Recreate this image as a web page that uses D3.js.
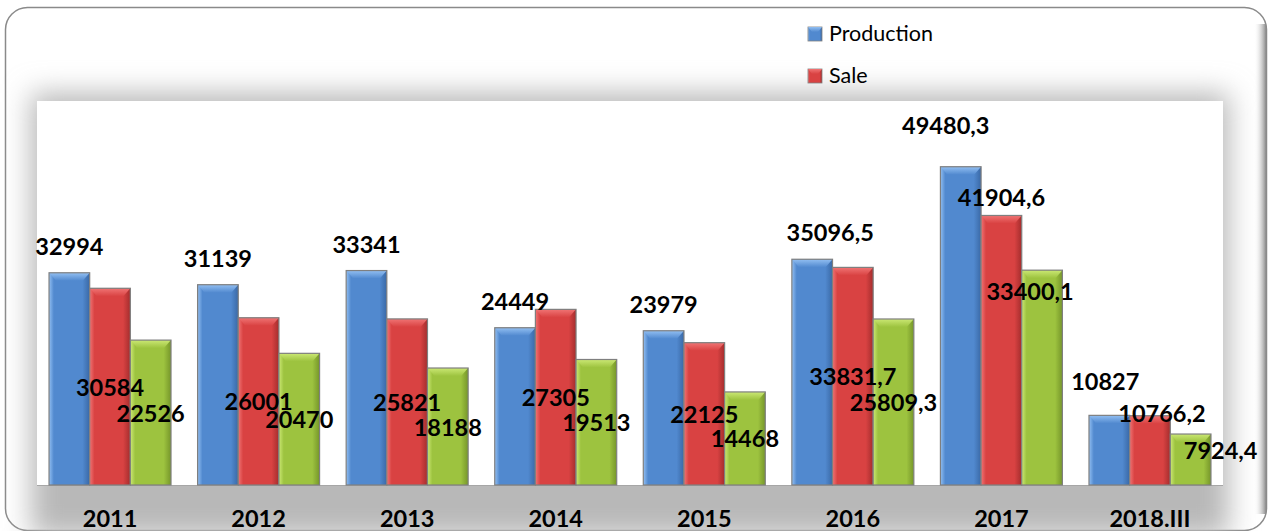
<!DOCTYPE html>
<html>
<head>
<meta charset="utf-8">
<script src="https://cdn.jsdelivr.net/npm/d3@7/dist/d3.min.js"></script>
<style>
  html, body { margin: 0; padding: 0; background: #ffffff; }
  svg { display: block; font-family: Lato, "Open Sans", sans-serif; }
</style>
</head>
<body>
<div id="chart"></div>
<script>
// chart data
const categories = ["2011", "2012", "2013", "2014", "2015", "2016", "2017", "2018.III"];
const production = [32994, 31139, 33341, 24449, 23979, 35096.5, 49480.3, 10827];
const sale = [30584, 26001, 25821, 27305, 22125, 33831.7, 41904.6, 10766.2];
const third = [22526, 20470, 18188, 19513, 14468, 25809.3, 33400.1, 7924.4];
const seriesNames = ["Production", "Sale", "Series3"];
const legendNames = ["Production", "Sale"];

// hand moved data labels in the original (pixel nudges)
const labelNudge = {
  "Production|2016": [18, 0],
  "Production|2017": [-15, -15],
  "Production|2018.III": [-4, -7],
  "Sale|2017": [0, -153],
  "Sale|2018.III": [12, -37],
  "Series3|2017": [-12, -87],
  "Series3|2018.III": [30, -10]
};

let w = 1268, h = 531;
let plot = {left: 37, right: 1223, top: 101, bottom: 485};

let colors = [
  {base: "#5189cf", light: "#92bff2", dark: "#3a69a6"},
  {base: "#d94242", light: "#f07474", dark: "#a42d2d"},
  {base: "#9dc33f", light: "#cbe874", dark: "#76962a"}
];

let svg = d3.select("#chart").append("svg")
  .attr("width", w)
  .attr("height", h);

let defs = svg.append("defs");

let glow = defs.append("filter").attr("id", "glow")
  .attr("x", "-10%").attr("y", "-30%").attr("width", "120%").attr("height", "160%");
glow.append("feGaussianBlur").attr("stdDeviation", 14);

colors.forEach((c, i) => {
  let g = defs.append("linearGradient").attr("id", "body" + i)
    .attr("x1", "0").attr("x2", "1").attr("y1", "0").attr("y2", "0");
  g.append("stop").attr("offset", "0").attr("stop-color", c.light);
  g.append("stop").attr("offset", "0.12").attr("stop-color", c.base);
  g.append("stop").attr("offset", "0.82").attr("stop-color", c.base);
  g.append("stop").attr("offset", "1").attr("stop-color", c.dark);

  let t = defs.append("linearGradient").attr("id", "cap" + i)
    .attr("x1", "0").attr("x2", "0").attr("y1", "0").attr("y2", "1");
  t.append("stop").attr("offset", "0").attr("stop-color", c.light);
  t.append("stop").attr("offset", "1").attr("stop-color", c.base);
});

let edge = defs.append("linearGradient").attr("id", "rightEdge")
  .attr("x1", "0").attr("x2", "1").attr("y1", "0").attr("y2", "0");
edge.append("stop").attr("offset", "0").attr("stop-color", "#ffffff").attr("stop-opacity", 0);
edge.append("stop").attr("offset", "1").attr("stop-color", "#8a8a8a").attr("stop-opacity", 1);

// outer frame
svg.append("rect")
  .attr("x", 5.5).attr("y", 7.5)
  .attr("width", 1261).attr("height", 523)
  .attr("rx", 22).attr("ry", 22)
  .attr("fill", "#ffffff")
  .attr("stroke", "#8a8a8a")
  .attr("stroke-width", 1.5);

// soft grey shadow round the plot area
svg.append("rect")
  .attr("x", plot.left - 6).attr("y", plot.top - 8)
  .attr("width", plot.right - plot.left + 12)
  .attr("height", plot.bottom - plot.top + 60)
  .attr("fill", "#b8b8b8")
  .attr("filter", "url(#glow)");

svg.append("rect")
  .attr("x", 1254).attr("y", 24)
  .attr("width", 12).attr("height", 490)
  .attr("fill", "url(#rightEdge)");

svg.append("rect")
  .attr("x", plot.left).attr("y", plot.top)
  .attr("width", plot.right - plot.left)
  .attr("height", plot.bottom - plot.top)
  .attr("fill", "#ffffff");

// scales
let x0 = d3.scaleBand()
  .domain(categories)
  .range([plot.left, plot.right])
  .paddingInner(0.179)
  .paddingOuter(0.081);

let x1 = d3.scaleBand()
  .domain(seriesNames)
  .range([0, x0.bandwidth()]);

let y = d3.scaleLinear()
  .domain([0, 59700])
  .range([plot.bottom, plot.top]);

let seriesData = [production, sale, third];
let rows = [];
seriesData.forEach((vals, s) => {
  vals.forEach((v, i) => {
    rows.push({series: seriesNames[s], s: s, cat: categories[i], value: v});
  });
});

// baseline
svg.append("line")
  .attr("x1", plot.left).attr("x2", plot.right)
  .attr("y1", plot.bottom + 0.5).attr("y2", plot.bottom + 0.5)
  .attr("stroke", "#a6a6a6")
  .attr("stroke-width", 1);

let bars = svg.append("g").selectAll("g")
  .data(rows)
  .enter()
  .append("g");

bars.append("rect")
  .attr("x", d => x0(d.cat) + x1(d.series))
  .attr("y", d => y(d.value))
  .attr("width", x1.bandwidth())
  .attr("height", d => y(0) - y(d.value))
  .attr("fill", d => "url(#body" + d.s + ")");

// bevelled top
bars.append("path")
  .attr("d", d => {
    let bx = x0(d.cat) + x1(d.series), bw = x1.bandwidth(), by = y(d.value);
    return `M${bx},${by}L${bx + bw},${by}L${bx + bw - 7},${by + 8}L${bx + 7},${by + 8}Z`;
  })
  .attr("fill", d => "url(#cap" + d.s + ")");

bars.append("rect")
  .attr("x", d => x0(d.cat) + x1(d.series))
  .attr("y", d => y(d.value))
  .attr("width", x1.bandwidth())
  .attr("height", d => y(0) - y(d.value))
  .attr("fill", "none")
  .attr("stroke", "#7f7f7f")
  .attr("stroke-width", 1.2);

// data labels
let fmt = v => String(v).replace(".", ",");
svg.append("g").selectAll("text")
  .data(rows)
  .enter()
  .append("text")
  .text(d => fmt(d.value))
  .attr("x", d => {
    let n = labelNudge[d.series + "|" + d.cat] || [0, 0];
    return x0(d.cat) + x1(d.series) + x1.bandwidth() / 2 + n[0];
  })
  .attr("y", d => {
    let n = labelNudge[d.series + "|" + d.cat] || [0, 0];
    let base = d.s == 0 ? y(d.value) - 18 : (y(d.value) + y(0)) / 2 + 9;
    return base + n[1];
  })
  .attr("text-anchor", "middle")
  .attr("font-size", "23.5px")
  .attr("font-weight", "bold")
  .attr("fill", "#000000");

// category labels
svg.append("g").selectAll("text")
  .data(categories)
  .enter()
  .append("text")
  .text(d => d)
  .attr("x", d => x0(d) + x0.bandwidth() / 2)
  .attr("y", 527)
  .attr("text-anchor", "middle")
  .attr("font-size", "23.5px")
  .attr("font-weight", "bold")
  .attr("fill", "#000000");

// legend
let legend = svg.append("g").selectAll("g")
  .data(legendNames)
  .enter()
  .append("g")
  .attr("transform", (d, i) => `translate(808,${27 + i * 42})`);

legend.append("rect")
  .attr("width", 14).attr("height", 14)
  .attr("fill", (d, i) => "url(#body" + i + ")")
  .attr("stroke", "#7f7f7f")
  .attr("stroke-width", 0.8);

legend.append("path")
  .attr("d", "M0,0L14,0L10,5L4,5Z")
  .attr("fill", (d, i) => "url(#cap" + i + ")");

legend.append("text")
  .text(d => d)
  .attr("x", 21)
  .attr("y", 14)
  .attr("font-size", "21.5px")
  .attr("fill", "#000000");
</script>
</body>
</html>
